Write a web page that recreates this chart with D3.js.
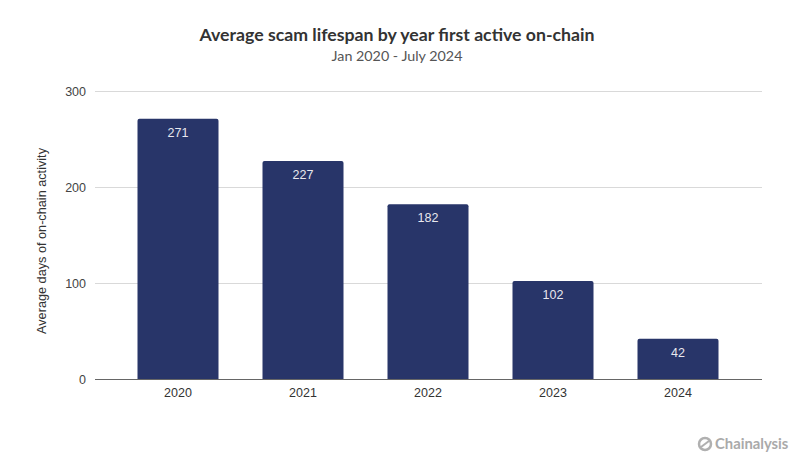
<!DOCTYPE html>
<html><head><meta charset="utf-8">
<script src="https://cdn.jsdelivr.net/npm/d3@7"></script>
<style>body{margin:0;background:#fff}svg{display:block}</style>
</head><body>
<svg id="c" width="800" height="471"></svg>
<script>
const categories = ["2020","2021","2022","2023","2024"];
const values = [271, 227, 182, 102, 42];
const yTicks = [0, 100, 200, 300];
const title = "Average scam lifespan by year first active on-chain";
const subtitle = "Jan 2020 - July 2024";
const yTitle = "Average days of on-chain activity";

const svg = d3.select("#c");
const x = d3.scaleBand().domain(categories).range([115.5, 740.5]).paddingInner(0.352).paddingOuter(0.176);
const y = d3.scaleLinear().domain([0, 300]).range([379, 91]);

svg.append("text").attr("x", 397).attr("y", 41).attr("text-anchor", "middle")
  .attr("font-family", "Lato, 'Noto Sans', sans-serif").attr("font-weight", "bold").attr("font-size", 17.7)
  .attr("fill", "#333").text(title);
svg.append("text").attr("x", 397).attr("y", 61).attr("text-anchor", "middle")
  .attr("font-family", "Lato, 'Noto Sans', sans-serif").attr("font-size", 14.3)
  .attr("fill", "#555").text(subtitle);

// grid
const yAxis = d3.axisLeft(y).tickValues(yTicks).tickSize(-(762 - 95)).tickPadding(9);
const gy = svg.append("g").attr("transform", "translate(95,0)").call(yAxis);
gy.select(".domain").remove();
gy.selectAll(".tick line").attr("stroke", "#d9d9d9");
gy.selectAll(".tick text").attr("font-family", "'Liberation Sans', Arial, sans-serif").attr("font-size", 12.5).attr("fill", "#444");

svg.append("text").attr("transform", "translate(46,241) rotate(-90)").attr("text-anchor", "middle")
  .attr("font-family", "'Liberation Sans', Arial, sans-serif").attr("font-size", 12.7).attr("fill", "#333").text(yTitle);

// bars with slightly rounded top
const r = 2;
svg.append("g").selectAll("path").data(categories).join("path")
  .attr("fill", "#283569")
  .attr("d", (c, i) => {
    const x0 = x(c), w = x.bandwidth(), t = y(values[i]), b = y(0);
    return `M${x0},${b}V${t + r}Q${x0},${t} ${x0 + r},${t}H${x0 + w - r}Q${x0 + w},${t} ${x0 + w},${t + r}V${b}Z`;
  });

svg.append("g").selectAll("text").data(categories).join("text")
  .attr("x", c => x(c) + x.bandwidth() / 2)
  .attr("y", (c, i) => y(values[i]) + 18)
  .attr("text-anchor", "middle")
  .attr("font-family", "'Liberation Sans', Arial, sans-serif").attr("font-size", 12.5)
  .attr("fill", "#e8e8ee").text((c, i) => values[i]);

// x axis
const xAxis = d3.axisBottom(x).tickSize(0).tickPadding(9);
const gx = svg.append("g").attr("transform", "translate(0,379)").call(xAxis);
gx.select(".domain").remove();
gx.selectAll(".tick text").attr("font-family", "'Liberation Sans', Arial, sans-serif").attr("font-size", 12.5).attr("fill", "#333");
svg.append("line").attr("x1", 95).attr("x2", 762).attr("y1", 379.5).attr("y2", 379.5).attr("stroke", "#666");

// logo
const lg = svg.append("g").attr("transform", "translate(705,444)");
lg.append("circle").attr("r", 6).attr("fill", "none").attr("stroke", "#b0b0b0").attr("stroke-width", 2.5);
lg.append("path").attr("d", "M-4,3 L4,-3").attr("stroke", "#b0b0b0").attr("stroke-width", 2);
lg.append("text").attr("x", 10).attr("y", 5).attr("font-family", "Lato, 'Noto Sans', sans-serif").attr("font-weight", "bold")
  .attr("font-size", 14.8).attr("fill", "#aaa").text("Chainalysis");
</script>
</body></html>
